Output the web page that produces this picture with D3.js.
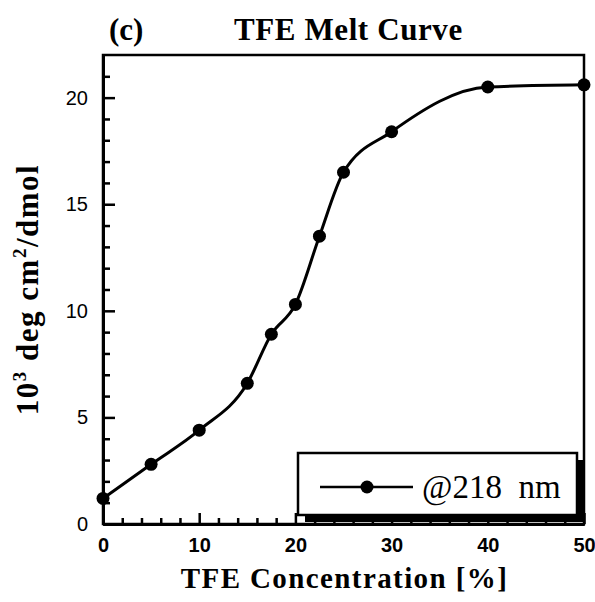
<!DOCTYPE html>
<html>
<head>
<meta charset="utf-8">
<script src="https://cdn.jsdelivr.net/npm/d3@7"></script>
<style>
  body { margin: 0; background: #fff; }
  svg { display: block; font-family: "Liberation Serif", "DejaVu Serif", serif; }
  .axis path { stroke: #000; stroke-width: 3; }
  .axis line { stroke: #000; stroke-width: 2.5; }
  .axis text { fill: #000; }
</style>
</head>
<body>
<div id="chart"></div>
<script>
/* Data */
var tfe = [0, 5, 10, 15, 17.5, 20, 22.5, 25, 30, 40, 50]; // TFE concentration [%]
var ellip = [1.2, 2.8, 4.4, 6.6, 8.9, 10.3, 13.5, 16.5, 18.4, 20.5, 20.6]; // 10^3 deg cm2/dmol
var xMajor = [0, 10, 20, 30, 40, 50];
var yMajor = [0, 5, 10, 15, 20];
var seriesName = "@218\u00a0 nm";

var width = 595, height = 602;
var margin = {top: 55, right: 11, bottom: 78, left: 103};
var w = width - margin.left - margin.right,
    h = height - margin.top - margin.bottom;

var svg = d3.select("#chart").append("svg")
  .attr("width", width)
  .attr("height", height);
var g = svg.append("g").attr("transform", "translate(" + margin.left + "," + margin.top + ")");

var x = d3.scaleLinear().domain([0, 50]).range([0, w]);
var y = d3.scaleLinear().domain([0, 22]).range([h, 0]);

var data = tfe.map(function(d, i) { return {x: d, y: ellip[i]}; });

// frame (top/right)
g.append("rect")
  .attr("width", w).attr("height", h)
  .attr("fill", "none").attr("stroke", "#000").attr("stroke-width", 2.5);

// minor ticks
var xMinor = d3.range(0, 51, 2).filter(function(v) { return v % 10 != 0; });
var yMinor = d3.range(0, 22, 1).filter(function(v) { return v % 5 != 0; });

g.append("g").attr("class", "axis")
  .attr("transform", "translate(0," + h + ")")
  .call(d3.axisBottom(x).tickValues(xMinor).tickSizeInner(-6).tickSizeOuter(0).tickFormat(""));
g.append("g").attr("class", "axis")
  .call(d3.axisLeft(y).tickValues(yMinor).tickSizeInner(-7).tickSizeOuter(0).tickFormat(""));

// major ticks + labels
var xAxis = g.append("g").attr("class", "axis")
  .attr("transform", "translate(0," + h + ")")
  .call(d3.axisBottom(x).tickValues(xMajor).tickSizeInner(-11).tickSizeOuter(0).tickPadding(14));
xAxis.selectAll("text").style("font-size", "20px").style("font-weight", "bold");

var yAxis = g.append("g").attr("class", "axis")
  .call(d3.axisLeft(y).tickValues(yMajor).tickSizeInner(-12).tickSizeOuter(0).tickPadding(15));
yAxis.selectAll("text").style("font-size", "20px");

// curve
var line = d3.line()
  .x(function(d) { return x(d.x); })
  .y(function(d) { return y(d.y); })
  .curve(d3.curveMonotoneX);

g.append("path").datum(data)
  .attr("d", line)
  .attr("fill", "none").attr("stroke", "#000").attr("stroke-width", 3);

g.selectAll("circle.pt").data(data).enter()
  .append("circle").attr("class", "pt")
  .attr("cx", function(d) { return x(d.x); })
  .attr("cy", function(d) { return y(d.y); })
  .attr("r", 6.5)
  .attr("fill", "#000");

// legend box with drop shadow
var lg = svg.append("g").attr("transform", "translate(298,453)");
lg.append("rect").attr("x", 7).attr("y", 7).attr("width", 279).attr("height", 62).attr("fill", "#000");
lg.append("rect").attr("width", 279).attr("height", 62)
  .attr("fill", "#fff").attr("stroke", "#000").attr("stroke-width", 2.5);
lg.append("line").attr("x1", 22).attr("x2", 115).attr("y1", 34).attr("y2", 34)
  .attr("stroke", "#000").attr("stroke-width", 2.5);
lg.append("circle").attr("cx", 69).attr("cy", 34).attr("r", 6.5).attr("fill", "#000");
lg.append("text").attr("x", 124).attr("y", 45)
  .style("font-size", "33px")
  .text(seriesName);

// titles
svg.append("text").attr("x", 109).attr("y", 40)
  .style("font-size", "31px").style("font-weight", "bold").text("(c)");
svg.append("text").attr("x", 234).attr("y", 40)
  .style("font-size", "31px").style("font-weight", "bold")
  .style("letter-spacing", "0.6px").text("TFE Melt Curve");

svg.append("text").attr("x", margin.left + w / 2 + 1).attr("y", 588)
  .attr("text-anchor", "middle")
  .style("font-size", "29px").style("font-weight", "bold")
  .style("letter-spacing", "1.4px")
  .text("TFE Concentration [%]");

var yl = svg.append("text")
  .attr("transform", "translate(38," + (margin.top + h / 2) + ") rotate(-90)")
  .attr("text-anchor", "middle")
  .style("font-size", "31px").style("font-weight", "bold")
  .style("letter-spacing", "1.5px");
yl.append("tspan").text("10");
yl.append("tspan").attr("dy", -12).style("font-size", "19px").text("3");
yl.append("tspan").attr("dy", 12).text(" deg cm");
yl.append("tspan").attr("dy", -12).style("font-size", "19px").text("2");
yl.append("tspan").attr("dy", 12).text("/dmol");
</script>
</body>
</html>
